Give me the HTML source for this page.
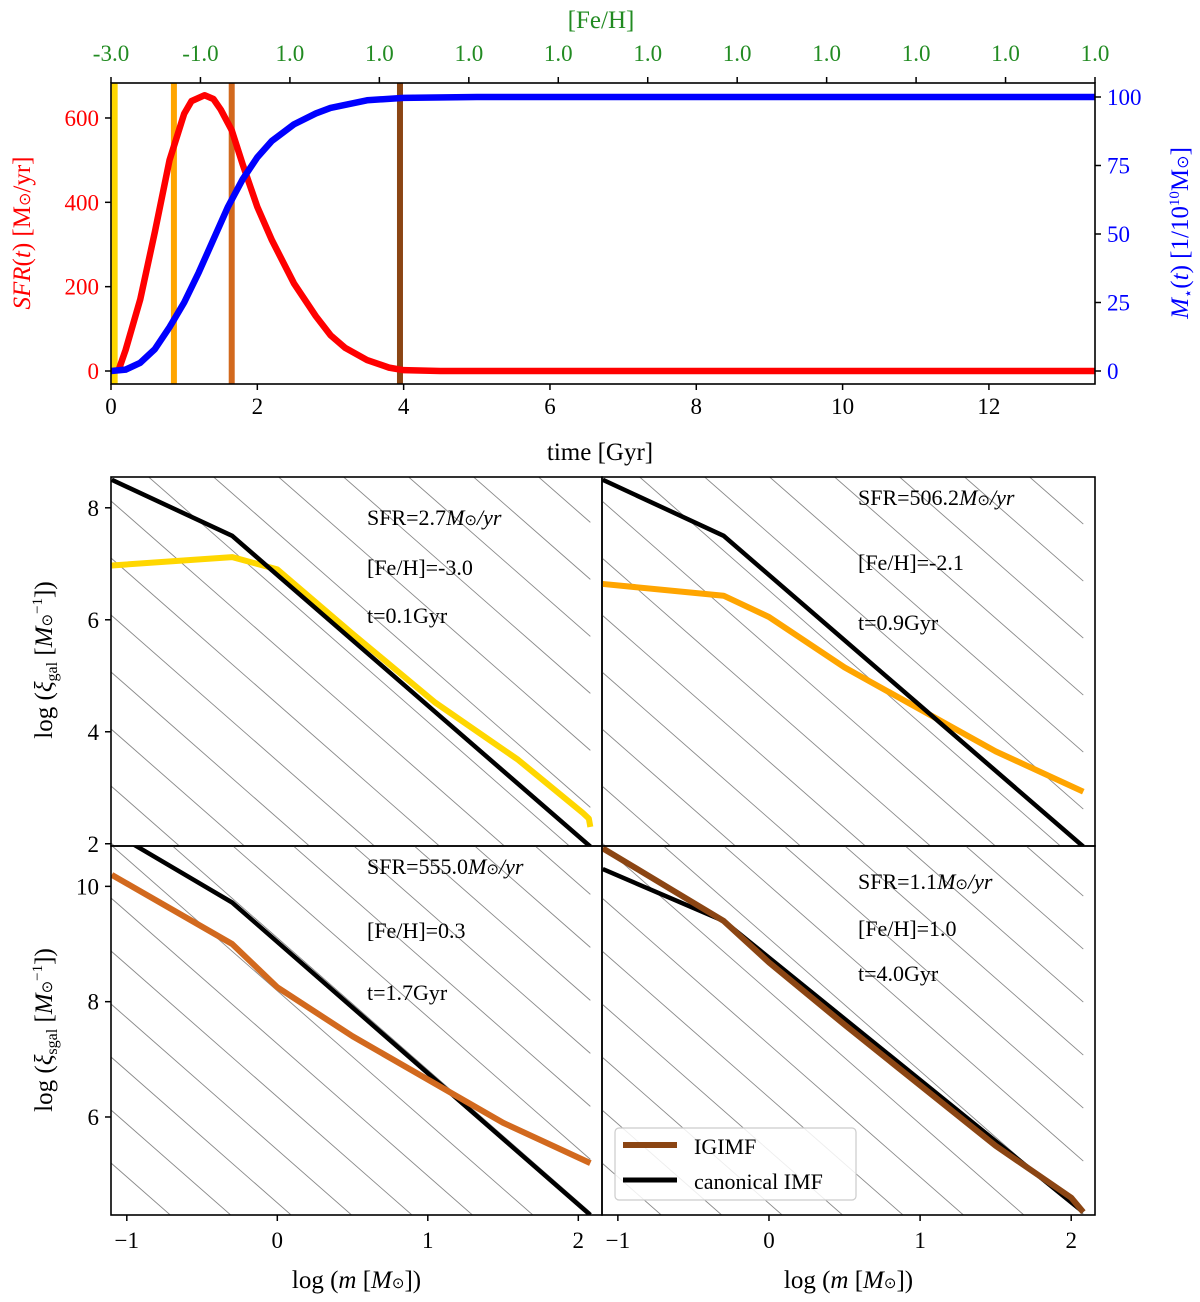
<!DOCTYPE html>
<html><head><meta charset="utf-8">
<style>
html,body{margin:0;padding:0;background:#fff;overflow:hidden;width:1200px;height:1302px;}
svg{display:block;}
svg text{font-family:"Liberation Serif",serif;}
</style></head>
<body>
<svg id="fig" width="1200" height="1302" viewBox="0 0 1200 1302" xmlns="http://www.w3.org/2000/svg"></svg>
<script>
// ---------- data ----------
const sfrTime = [0.1,0.2,0.4,0.6,0.8,1.0,1.1,1.28,1.4,1.5,1.65,1.8,2.0,2.2,2.5,2.8,3.0,3.2,3.5,3.8,4.0,4.5,13.45];
const sfrVals = [0,50,170,330,500,610,640,654,645,620,571,490,389,310,208,130,85,55,26,8,2,0,0];
const massTime = [0,0.2,0.4,0.6,0.8,1.0,1.2,1.4,1.6,1.8,2.0,2.2,2.5,2.8,3.0,3.5,4.0,5.0,13.45];
const massVals = [0,0.5,3,8,16,25,36,48,60,70,78,84,90,94,96,98.8,99.7,100,100];
const snapTimes = [0.05,0.86,1.65,3.95];
const snapColors = ["#FFD700","#FFA500","#D2691E","#8B4513"];
const timeTicks = [0,2,4,6,8,10,12];
const sfrTicks = [0,200,400,600];
const massTicks = [0,25,50,75,100];
const fehLabels = ["-3.0","-1.0","1.0","1.0","1.0","1.0","1.0","1.0","1.0","1.0","1.0","1.0"];

const p1_igimf_x = [-1.1,-0.3,0.0,0.5,1.05,1.6,2.03,2.07,2.08];
const p1_igimf_y = [6.97,7.12,6.9,5.75,4.52,3.5,2.55,2.45,2.3];
const p1_can_x = [-1.1,-0.3,2.08];
const p1_can_y = [8.5,7.5,1.95];
const p2_igimf_x = [-1.1,-0.3,0.0,0.5,1.0,1.5,2.08];
const p2_igimf_y = [6.64,6.43,6.05,5.15,4.4,3.65,2.93];
const p2_can_x = [-1.1,-0.3,2.08];
const p2_can_y = [8.5,7.5,1.95];
const p3_igimf_x = [-1.1,-0.3,0.0,0.5,1.0,1.5,2.08];
const p3_igimf_y = [10.2,9.0,8.25,7.4,6.65,5.9,5.2];
const p3_can_x = [-1.1,-0.3,2.08];
const p3_can_y = [10.95,9.72,4.3];
const p4_igimf_x = [-1.1,-0.3,0.0,0.5,1.0,1.5,2.0,2.08];
const p4_igimf_y = [10.66,9.4,8.68,7.6,6.55,5.5,4.6,4.35];
const p4_can_x = [-1.1,-0.3,2.08];
const p4_can_y = [10.3,9.4,4.35];
const panelTexts = [
 ["SFR=2.7","-3.0","0.1"],["SFR=506.2","-2.1","0.9"],["SFR=555.0","0.3","1.7"],["SFR=1.1","1.0","4.0"]];
const imfXTicks = [-1,0,1,2];

// ---------- helpers ----------
const svg = document.getElementById('fig');
const NS = "http://www.w3.org/2000/svg";
function mk(tag, attrs, parent){const e=document.createElementNS(NS,tag);for(const k in attrs)e.setAttribute(k,attrs[k]);(parent||svg).appendChild(e);return e;}
function txt(s, x, y, size, color, anchor, parent){const t=mk('text',{x:x,y:y,'font-size':size,fill:color||'#000','text-anchor':anchor||'middle'},parent);t.innerHTML=s;return t;}

// ---------- top panel ----------
const T={l:111,r:1095,t:83,b:384};
const tx = t => T.l + t*(T.r-T.l)/13.45;
const sy = v => 371 - v*0.4217;
const my = v => 371 - v*2.74;
const topG = mk('g',{});


const clip = mk('clipPath',{id:'ctop'}); mk('rect',{x:T.l,y:T.t,width:T.r-T.l,height:T.b-T.t},clip);
snapTimes.forEach((t,i)=>{
  const l=mk('line',{x1:tx(t),x2:tx(t),y1:T.t,y2:T.b,stroke:snapColors[i],'stroke-width':6},topG);
  
  
});
const sfrPath = mk('path',{d:sfrTime.map((t,i)=>(i?'L':'M')+tx(t)+','+sy(sfrVals[i])).join(''),fill:'none',stroke:'#f00','stroke-width':6.5,'clip-path':'url(#ctop)','stroke-linejoin':'round'},topG);


const mPath = mk('path',{d:massTime.map((t,i)=>(i?'L':'M')+tx(t)+','+my(massVals[i])).join(''),fill:'none',stroke:'#00f','stroke-width':6.5,'clip-path':'url(#ctop)','stroke-linejoin':'round'},topG);


mk('rect',{x:T.l,y:T.t,width:T.r-T.l,height:T.b-T.t,fill:'none',stroke:'#000','stroke-width':1.6},topG);
timeTicks.forEach(v=>{mk('line',{x1:tx(v),x2:tx(v),y1:T.b,y2:T.b+6,stroke:'#000','stroke-width':1.5},topG);txt(v,tx(v),T.b+30,23,'#000','middle',topG);});
sfrTicks.forEach(v=>{mk('line',{x1:T.l-6,x2:T.l,y1:sy(v),y2:sy(v),stroke:'#000','stroke-width':1.5},topG);txt(v,T.l-12,sy(v)+8,23,'#f00','end',topG);});
massTicks.forEach(v=>{mk('line',{x1:T.r,x2:T.r+6,y1:my(v),y2:my(v),stroke:'#000','stroke-width':1.5},topG);txt(v,T.r+12,my(v)+8,23,'#00f','start',topG);});
fehLabels.forEach((s,i)=>{const x=T.l+i*(T.r-T.l)/11;mk('line',{x1:x,x2:x,y1:T.t-6,y2:T.t,stroke:'#000','stroke-width':1.5},topG);txt(s,x,T.t-22,23,'#228B22','middle',topG);});
const xl=txt('time [Gyr]',600,460,25,'#000','middle',topG);

const fl=txt('[Fe/H]',601,28,25,'#228B22','middle',topG);

const ly=txt('<tspan font-style="italic">SFR</tspan>(<tspan font-style="italic">t</tspan>) [M<tspan font-size="16">⊙</tspan>/yr]',0,0,25,'#f00','middle',topG);
ly.setAttribute('transform','translate(30,233) rotate(-90)');

const ry=txt('<tspan font-style="italic">M</tspan><tspan font-size="15" dy="5">⋆</tspan><tspan dy="-5">(<tspan font-style="italic">t</tspan>) [1/10</tspan><tspan font-size="15" dy="-9">10</tspan><tspan dy="9">M</tspan><tspan font-size="16">⊙</tspan>]',0,0,25,'#00f','middle',topG);
ry.setAttribute('transform','translate(1188,233) rotate(-90)');


// ---------- IMF panels ----------
const panels = [
 {l:111,r:602,t:477,b:846,ymin:1.96,ymax:8.55,ix:p1_igimf_x,iy:p1_igimf_y,cx:p1_can_x,cy:p1_can_y,col:'#FFD700',ticks:[2,4,6,8],tx:367,ty:[525,575,623],hp:672,hs:57},
 {l:602,r:1095,t:477,b:846,ymin:1.96,ymax:8.55,ix:p2_igimf_x,iy:p2_igimf_y,cx:p2_can_x,cy:p2_can_y,col:'#FFA500',ticks:[],tx:858,ty:[505,570,630],hp:672,hs:57},
 {l:111,r:602,t:846,b:1215,ymin:4.3,ymax:10.7,ix:p3_igimf_x,iy:p3_igimf_y,cx:p3_can_x,cy:p3_can_y,col:'#D2691E',ticks:[6,8,10],tx:367,ty:[874,938,1000],hp:898,hs:53},
 {l:602,r:1095,t:846,b:1215,ymin:4.3,ymax:10.7,ix:p4_igimf_x,iy:p4_igimf_y,cx:p4_can_x,cy:p4_can_y,col:'#8B4513',ticks:[],tx:858,ty:[889,936,981],hp:898,hs:53}
];
panels.forEach((P,k)=>{
  const g=mk('g',{});
  
  
  const X=v=>P.l+(v+1.105)*150.5*(P.r-P.l)/491;
  const Y=v=>P.b-(v-P.ymin)*(P.b-P.t)/(P.ymax-P.ymin);
  const c=mk('clipPath',{id:'c'+k});mk('rect',{x:P.l,y:P.t,width:P.r-P.l,height:P.b-P.t},c);
  const hg=mk('g',{'clip-path':'url(#c'+k+')'},g);
  const xEnd=X(2.08), w=xEnd-P.l;
  for(let n=-20;n<12;n++){
    const y0=P.hp+n*P.hs;
    mk('line',{x1:P.l,y1:y0,x2:xEnd,y2:y0+0.877*w,stroke:'#888','stroke-width':0.9},hg);
  }
  const cp=mk('path',{d:P.cx.map((v,i)=>(i?'L':'M')+X(v)+','+Y(P.cy[i])).join(''),fill:'none',stroke:'#000','stroke-width':4.5,'clip-path':'url(#c'+k+')'},g);
  
  
  const ip=mk('path',{d:P.ix.map((v,i)=>(i?'L':'M')+X(v)+','+Y(P.iy[i])).join(''),fill:'none',stroke:P.col,'stroke-width':6,'clip-path':'url(#c'+k+')','stroke-linejoin':'round'},g);
  
  
  if(k<2) g.insertBefore(ip,cp);
  mk('rect',{x:P.l,y:P.t,width:P.r-P.l,height:P.b-P.t,fill:'none',stroke:'#000','stroke-width':1.6},g);
  P.ticks.forEach(v=>{mk('line',{x1:P.l-6,x2:P.l,y1:Y(v),y2:Y(v),stroke:'#000','stroke-width':1.5},g);txt(v,P.l-12,Y(v)+8,23,'#000','end',g);});
  if(k>=2) imfXTicks.forEach(v=>{mk('line',{x1:X(v),x2:X(v),y1:P.b,y2:P.b+6,stroke:'#000','stroke-width':1.5},g);txt(v<0?'−'+(-v):v,X(v),P.b+33,23,'#000','middle',g);});
  const T3=panelTexts[k];
  txt(T3[0]+'<tspan font-style="italic">M</tspan><tspan font-size="15">⊙</tspan><tspan font-style="italic">/yr</tspan>',P.tx,P.ty[0],22,'#000','start',g);
  txt('[Fe/H]='+T3[1],P.tx,P.ty[1],22,'#000','start',g);
  txt('t='+T3[2]+'Gyr',P.tx,P.ty[2],22,'#000','start',g);
  if(k>=2){const xt=txt('log (<tspan font-style="italic">m</tspan> [<tspan font-style="italic">M</tspan><tspan font-size="15">⊙</tspan>])',(P.l+P.r)/2,1288,25,'#000','middle',g);
    }
});
const y1=txt('log (<tspan font-style="italic">ξ</tspan><tspan font-size="16" dy="5">gal</tspan><tspan dy="-5"> [</tspan><tspan font-style="italic">M</tspan><tspan font-size="15">⊙</tspan><tspan font-size="15" dy="-10">−1</tspan><tspan dy="10">])</tspan>',0,0,25,'#000','middle');
y1.setAttribute('transform','translate(52,660) rotate(-90)');

const y2=txt('log (<tspan font-style="italic">ξ</tspan><tspan font-size="16" dy="5">sgal</tspan><tspan dy="-5"> [</tspan><tspan font-style="italic">M</tspan><tspan font-size="15">⊙</tspan><tspan font-size="15" dy="-10">−1</tspan><tspan dy="10">])</tspan>',0,0,25,'#000','middle');
y2.setAttribute('transform','translate(52,1030) rotate(-90)');


// legend
const lg=mk('g',{});


mk('rect',{x:615,y:1128,width:241,height:72,rx:4,fill:'#fff','fill-opacity':0.85,stroke:'#ccc','stroke-width':1.2},lg);
mk('line',{x1:623,x2:677,y1:1145,y2:1145,stroke:'#8B4513','stroke-width':6},lg);
txt('IGIMF',694,1154,22,'#000','start',lg);
mk('line',{x1:623,x2:677,y1:1180,y2:1180,stroke:'#000','stroke-width':5},lg);
txt('canonical IMF',694,1189,22,'#000','start',lg);
</script>
</body></html>
